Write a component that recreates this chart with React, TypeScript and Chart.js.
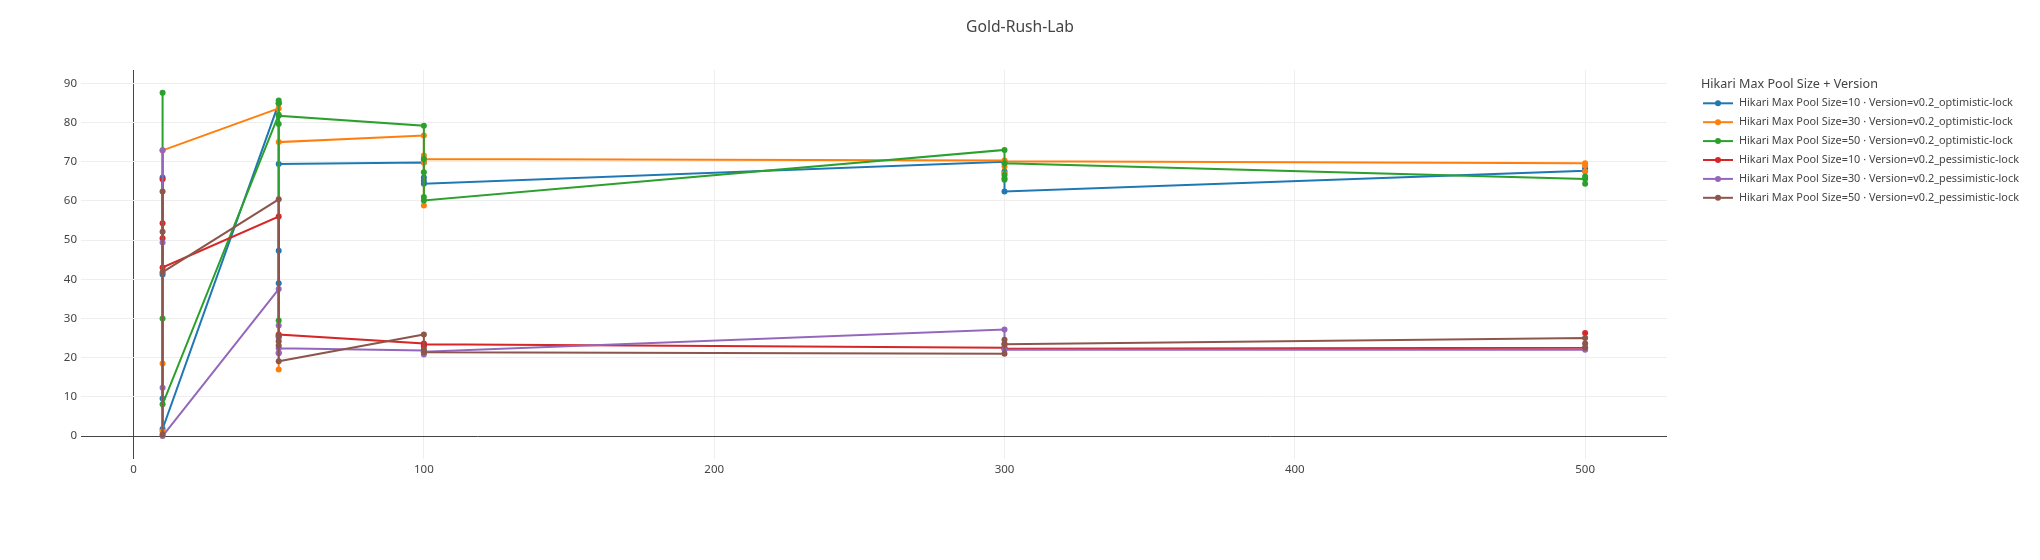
import { useEffect, useRef } from 'react';
import { Chart, registerables } from 'chart.js';

Chart.register(...registerables);

const TITLE = 'Gold-Rush-Lab';
const LEGEND_TITLE = 'Hikari Max Pool Size + Version';

const seriesLabels = [
  'Hikari Max Pool Size=10 · Version=v0.2_optimistic-lock',
  'Hikari Max Pool Size=30 · Version=v0.2_optimistic-lock',
  'Hikari Max Pool Size=50 · Version=v0.2_optimistic-lock',
  'Hikari Max Pool Size=10 · Version=v0.2_pessimistic-lock',
  'Hikari Max Pool Size=30 · Version=v0.2_pessimistic-lock',
  'Hikari Max Pool Size=50 · Version=v0.2_pessimistic-lock',
];
const seriesColors = ['#1f77b4', '#ff7f0e', '#2ca02c', '#d62728', '#9467bd', '#8c564b'];

const xTicks = [0, 100, 200, 300, 400, 500];
const yTicks = [0, 10, 20, 30, 40, 50, 60, 70, 80, 90];

// Pool=10, optimistic
const xOpt10 = [10, 10, 10, 10, 50, 50, 50, 50, 100, 100, 100, 100, 300, 300, 300, 500, 500];
const yOpt10 = [66.0, 41.2, 9.6, 1.8, 84.9, 47.3, 39.0, 69.4, 69.8, 66.0, 65.1, 64.4, 70.0, 67.5, 62.4, 67.7, 68.3];
// Pool=30, optimistic
const xOpt30 = [10, 10, 10, 50, 50, 50, 100, 100, 100, 100, 100, 300, 300, 300, 300, 500, 500, 500];
const yOpt30 = [1.2, 18.5, 72.9, 83.6, 17.0, 75.0, 76.7, 71.6, 58.8, 69.8, 70.7, 70.3, 68.8, 67.0, 70.1, 69.6, 67.5, 69.0];
// Pool=50, optimistic
const xOpt50 = [10, 10, 10, 50, 50, 50, 50, 50, 50, 100, 100, 100, 100, 100, 300, 300, 300, 300, 300, 500, 500, 500];
const yOpt50 = [87.6, 30.0, 8.1, 82.0, 85.6, 84.9, 29.5, 79.6, 81.7, 79.2, 70.7, 67.3, 61.0, 60.1, 73.0, 66.6, 65.8, 65.4, 69.6, 65.6, 66.2, 64.4];
// Pool=10, pessimistic
const xPes10 = [10, 10, 10, 10, 50, 50, 50, 50, 100, 100, 100, 300, 300, 300, 500, 500];
const yPes10 = [65.5, 54.3, 50.5, 43.0, 56.0, 25.5, 21.2, 25.9, 23.6, 22.9, 23.4, 22.5, 23.5, 22.3, 22.5, 26.3];
// Pool=30, pessimistic
const xPes30 = [10, 10, 10, 10, 50, 50, 50, 50, 50, 100, 100, 100, 300, 300, 500, 500];
const yPes30 = [72.9, 49.4, 12.3, 0.0, 37.5, 28.2, 25.1, 21.2, 22.4, 21.8, 20.8, 21.5, 27.2, 22.0, 22.0, 22.3];
// Pool=50, pessimistic
const xPes50 = [10, 10, 10, 10, 50, 50, 50, 50, 50, 100, 100, 100, 300, 300, 300, 500, 500, 500];
const yPes50 = [62.4, 52.1, 0.4, 41.8, 60.4, 24.2, 23.1, 25.5, 19.1, 25.9, 22.1, 21.4, 21.0, 24.6, 23.4, 25.0, 22.5, 23.6];

const seriesX = [xOpt10, xOpt30, xOpt50, xPes10, xPes30, xPes50];
const seriesY = [yOpt10, yOpt30, yOpt50, yPes10, yPes30, yPes50];

const FONT = '"Noto Sans", "Open Sans", sans-serif';

function fitSize(ctx: CanvasRenderingContext2D, text: string, target: number, base: number) {
  ctx.font = `${base}px ${FONT}`;
  const w = ctx.measureText(text).width;
  return w > 0 ? (base * target) / w : base;
}

const overlayPlugin = {
  id: 'overlay',
  afterDraw(chart: any) {
    const ctx = chart.ctx as CanvasRenderingContext2D;
    ctx.save();
    ctx.fillStyle = '#444';
    ctx.textBaseline = 'middle';
    ctx.textAlign = 'center';
    const tSize = fitSize(ctx, TITLE, 108, 17);
    ctx.font = `${tSize}px ${FONT}`;
    ctx.fillText(TITLE, 1020, 28);

    ctx.textAlign = 'left';
    const ltSize = fitSize(ctx, LEGEND_TITLE, 177, 13);
    ctx.font = `${ltSize}px ${FONT}`;
    ctx.fillText(LEGEND_TITLE, 1701, 84);

    const iSize = fitSize(ctx, seriesLabels[0], 274, 12);
    ctx.font = `${iSize}px ${FONT}`;
    chart.data.datasets.forEach((ds: any, i: number) => {
      const y = 103.3 + i * 18.9;
      ctx.strokeStyle = ds.borderColor;
      ctx.lineWidth = 2;
      ctx.beginPath();
      ctx.moveTo(1703, y);
      ctx.lineTo(1733, y);
      ctx.stroke();
      ctx.fillStyle = ds.borderColor;
      ctx.beginPath();
      ctx.arc(1718, y, 3, 0, Math.PI * 2);
      ctx.fill();
      ctx.fillStyle = '#444';
      ctx.fillText(ds.label, 1739, y);
    });
    ctx.restore();
  },
};

export default function App() {
  const ref = useRef<HTMLCanvasElement | null>(null);

  useEffect(() => {
    document.body.style.margin = '0';
    Chart.defaults.font.family = FONT;
    const canvas = ref.current!;
    const datasets = seriesLabels.map((label, i) => ({
      label,
      data: seriesX[i].map((x, j) => ({ x, y: seriesY[i][j] })),
      borderColor: seriesColors[i],
      backgroundColor: seriesColors[i],
      pointBackgroundColor: seriesColors[i],
      pointBorderWidth: 0,
      pointRadius: 3,
      borderWidth: 2,
      showLine: true,
      tension: 0,
      order: seriesLabels.length - i,
    }));

    const gridColor = (c: any) => (c.tick && c.tick.value === 0 ? '#444' : '#eee');

    const chart = new Chart(canvas, {
      type: 'scatter',
      data: { datasets },
      options: {
        animation: false,
        responsive: false,
        maintainAspectRatio: false,
        layout: { padding: { left: 0, top: 70, right: 373, bottom: 71 } },
        plugins: {
          legend: { display: false },
          title: { display: false },
          tooltip: { enabled: false },
        },
        scales: {
          x: {
            type: 'linear',
            min: -18.1,
            max: 528.2,
            afterBuildTicks: (s: any) => {
              s.ticks = xTicks.map((v) => ({ value: v }));
            },
            afterFit: (s: any) => {
              s.height = 30;
            },
            grid: { color: gridColor, lineWidth: 1, drawTicks: false },
            border: { display: false },
            ticks: { color: '#444', font: { size: 11.5, family: FONT }, padding: 4, maxRotation: 0 },
          },
          y: {
            type: 'linear',
            min: -5.86,
            max: 93.4,
            afterBuildTicks: (s: any) => {
              s.ticks = yTicks.map((v) => ({ value: v }));
            },
            afterFit: (s: any) => {
              s.width = 81;
            },
            grid: { color: gridColor, lineWidth: 1, drawTicks: false },
            border: { display: false },
            ticks: { color: '#444', font: { size: 11.5, family: FONT }, padding: 4 },
          },
        },
      },
      plugins: [overlayPlugin],
    });
    return () => chart.destroy();
  }, []);

  return (
    <div style={{ width: 2040, height: 560, background: '#fff' }}>
      <canvas ref={ref} width={2040} height={560} style={{ display: 'block' }} />
    </div>
  );
}
